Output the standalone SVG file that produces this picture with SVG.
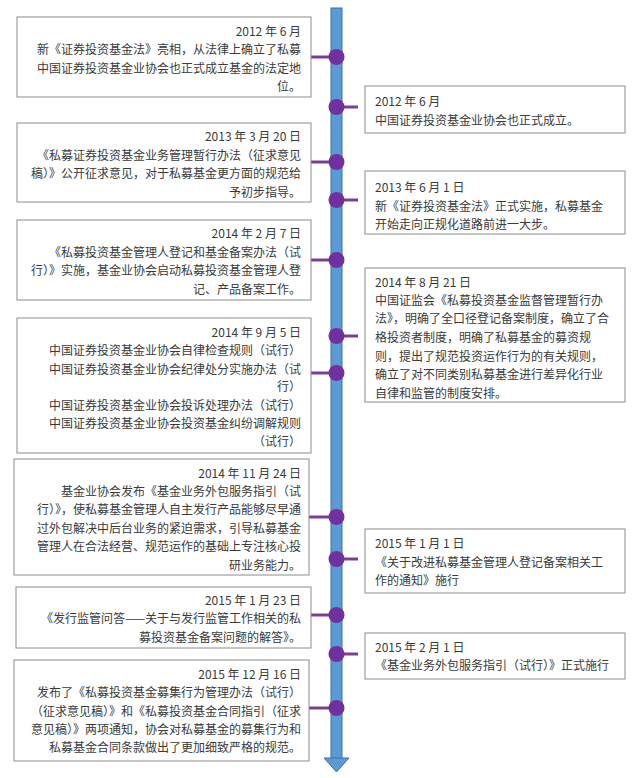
<svg xmlns="http://www.w3.org/2000/svg" width="640" height="778" viewBox="0 0 640 778">
<style>
.box{fill:#fff;stroke:#8c8c8c;stroke-width:1}
.t{font-family:"Noto Sans CJK SC","Liberation Sans",sans-serif;font-size:12px;fill:#3a3a3a}
.l{text-anchor:end}
.stub{stroke:#7b3f92;stroke-width:3}
.dot{fill:#7030a0}
</style>
<rect width="640" height="778" fill="#fff"/>
<g id="timeline">
<rect x="331" y="8" width="11" height="751" fill="#5b9bd5" stroke="#41719c" stroke-width="1"/>
<polygon points="324,758 349,758 336.5,772" fill="#5b9bd5" stroke="#41719c" stroke-width="1"/>
</g>
<g id="connectors">
<line class="stub" x1="311" y1="57" x2="336" y2="57"/>
<line class="stub" x1="311" y1="162" x2="336" y2="162"/>
<line class="stub" x1="311" y1="260" x2="336" y2="260"/>
<line class="stub" x1="311" y1="373" x2="336" y2="373"/>
<line class="stub" x1="309" y1="517" x2="336" y2="517"/>
<line class="stub" x1="311" y1="615" x2="336" y2="615"/>
<line class="stub" x1="309" y1="708" x2="336" y2="708"/>
<line class="stub" x1="336" y1="107" x2="358" y2="107"/>
<line class="stub" x1="336" y1="200" x2="358" y2="200"/>
<line class="stub" x1="336" y1="336" x2="358" y2="336"/>
<line class="stub" x1="336" y1="559" x2="358" y2="559"/>
<line class="stub" x1="336" y1="654" x2="358" y2="654"/>
<circle class="dot" cx="336.5" cy="57" r="8"/>
<circle class="dot" cx="336.5" cy="162" r="8"/>
<circle class="dot" cx="336.5" cy="260" r="8"/>
<circle class="dot" cx="336.5" cy="373" r="8"/>
<circle class="dot" cx="336.5" cy="517" r="8"/>
<circle class="dot" cx="336.5" cy="615" r="8"/>
<circle class="dot" cx="336.5" cy="708" r="8"/>
<circle class="dot" cx="336.5" cy="107" r="8"/>
<circle class="dot" cx="336.5" cy="200" r="8"/>
<circle class="dot" cx="336.5" cy="336" r="8"/>
<circle class="dot" cx="336.5" cy="559" r="8"/>
<circle class="dot" cx="336.5" cy="654" r="8"/>
</g>
<g id="n1"><rect class="box" x="17" y="17" width="294" height="80"/>
<text class="t l" x="301" y="36">2012 年 6 月</text>
<text class="t l" x="301" y="54">新《证券投资基金法》亮相，从法律上确立了私募</text>
<text class="t l" x="301" y="73">中国证券投资基金业协会也正式成立基金的法定地</text>
<text class="t l" x="301" y="91">位。</text></g>
<g id="r1"><rect class="box" x="365" y="86" width="260" height="47"/>
<text class="t" x="375" y="106">2012 年 6 月</text>
<text class="t" x="375" y="125">中国证券投资基金业协会也正式成立。</text></g>
<g id="n2"><rect class="box" x="17" y="123" width="294" height="79"/>
<text class="t l" x="301" y="141">2013 年 3 月 20 日</text>
<text class="t l" x="301" y="160">《私募证券投资基金业务管理暂行办法（征求意见</text>
<text class="t l" x="301" y="178">稿）》公开征求意见，对于私募基金更方面的规范给</text>
<text class="t l" x="301" y="197">予初步指导。</text></g>
<g id="r2"><rect class="box" x="365" y="171" width="260" height="63"/>
<text class="t" x="375" y="192">2013 年 6 月 1 日</text>
<text class="t" x="375" y="211">新《证券投资基金法》正式实施，私募基金</text>
<text class="t" x="375" y="229">开始走向正规化道路前进一大步。</text></g>
<g id="n3"><rect class="box" x="17" y="220" width="294" height="80"/>
<text class="t l" x="301" y="238">2014 年 2 月 7 日</text>
<text class="t l" x="301" y="257">《私募投资基金管理人登记和基金备案办法（试</text>
<text class="t l" x="301" y="275">行）》实施，基金业协会启动私募投资基金管理人登</text>
<text class="t l" x="301" y="294">记、产品备案工作。</text></g>
<g id="r3"><rect class="box" x="365" y="268" width="260" height="134"/>
<text class="t" x="375" y="287">2014 年 8 月 21 日</text>
<text class="t" x="375" y="305">中国证监会《私募投资基金监督管理暂行办</text>
<text class="t" x="375" y="323">法》，明确了全口径登记备案制度，确立了合</text>
<text class="t" x="375" y="342">格投资者制度，明确了私募基金的募资规</text>
<text class="t" x="375" y="361">则，提出了规范投资运作行为的有关规则，</text>
<text class="t" x="375" y="379">确立了对不同类别私募基金进行差异化行业</text>
<text class="t" x="375" y="398">自律和监管的制度安排。</text></g>
<g id="n4"><rect class="box" x="17" y="318" width="294" height="135"/>
<text class="t l" x="301" y="337">2014 年 9 月 5 日</text>
<text class="t l" x="301" y="355">中国证券投资基金业协会自律检查规则（试行）</text>
<text class="t l" x="301" y="374">中国证券投资基金业协会纪律处分实施办法（试</text>
<text class="t l" x="301" y="391">行）</text>
<text class="t l" x="301" y="410">中国证券投资基金业协会投诉处理办法（试行）</text>
<text class="t l" x="301" y="428">中国证券投资基金业协会投资基金纠纷调解规则</text>
<text class="t l" x="301" y="446">（试行）</text></g>
<g id="n5"><rect class="box" x="14" y="459" width="295" height="116"/>
<text class="t l" x="301" y="478">2014 年 11 月 24 日</text>
<text class="t l" x="301" y="496">基金业协会发布《基金业务外包服务指引（试</text>
<text class="t l" x="301" y="514">行）》，使私募基金管理人自主发行产品能够尽早通</text>
<text class="t l" x="301" y="533">过外包解决中后台业务的紧迫需求，引导私募基金</text>
<text class="t l" x="301" y="551">管理人在合法经营、规范运作的基础上专注核心投</text>
<text class="t l" x="301" y="570">研业务能力。</text></g>
<g id="r4"><rect class="box" x="365" y="529" width="260" height="64"/>
<text class="t" x="375" y="548">2015 年 1 月 1 日</text>
<text class="t" x="375" y="567">《关于改进私募基金管理人登记备案相关工</text>
<text class="t" x="375" y="585">作的通知》施行</text></g>
<g id="n6"><rect class="box" x="16" y="587" width="295" height="61"/>
<text class="t l" x="301" y="605">2015 年 1 月 23 日</text>
<text class="t l" x="301" y="623">《发行监管问答——关于与发行监管工作相关的私</text>
<text class="t l" x="301" y="642">募投资基金备案问题的解答》。</text></g>
<g id="r5"><rect class="box" x="365" y="633" width="260" height="46"/>
<text class="t" x="375" y="652">2015 年 2 月 1 日</text>
<text class="t" x="375" y="670">《基金业务外包服务指引（试行）》正式施行</text></g>
<g id="n7"><rect class="box" x="14" y="660" width="295" height="101"/>
<text class="t l" x="301" y="679">2015 年 12 月 16 日</text>
<text class="t l" x="301" y="697">发布了《私募投资基金募集行为管理办法（试行）</text>
<text class="t l" x="301" y="716">（征求意见稿）》和《私募投资基金合同指引（征求</text>
<text class="t l" x="301" y="734">意见稿）》两项通知，协会对私募基金的募集行为和</text>
<text class="t l" x="301" y="752">私募基金合同条款做出了更加细致严格的规范。</text></g>
</svg>
